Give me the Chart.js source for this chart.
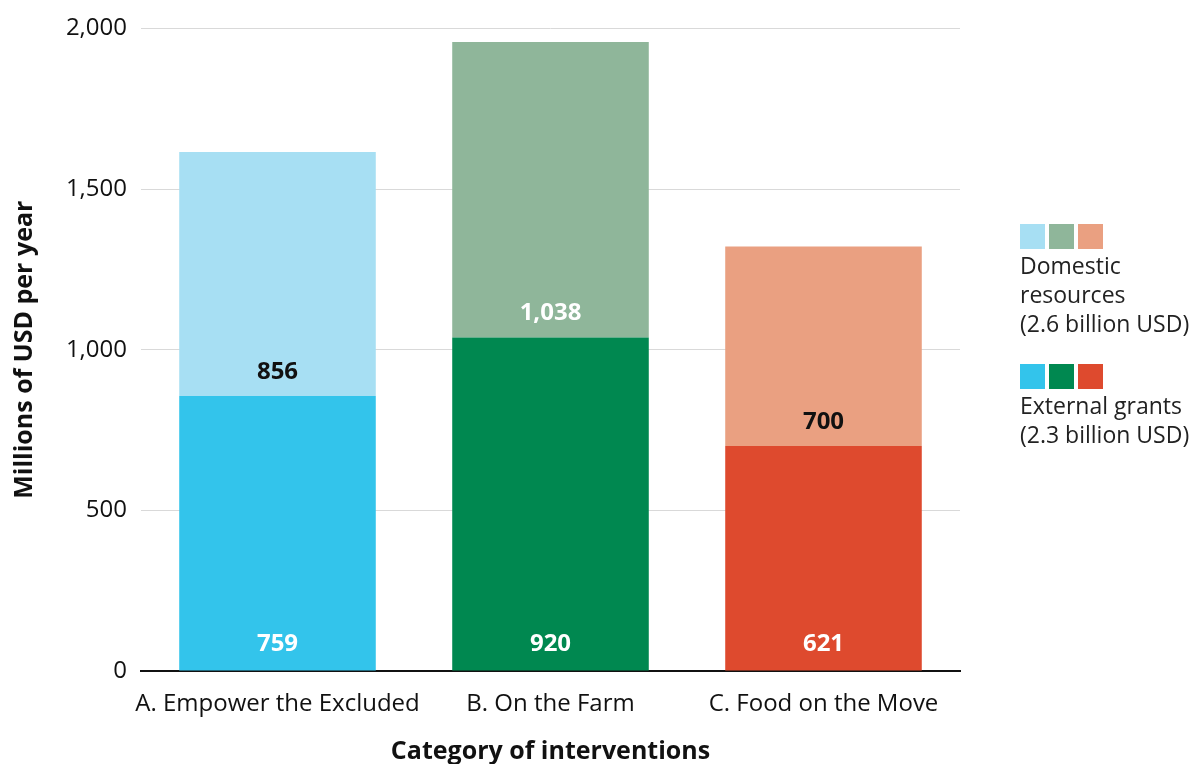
<!DOCTYPE html>
<html>
<head>
<meta charset="utf-8">
<script src="https://cdn.jsdelivr.net/npm/chart.js@4.4.1/dist/chart.umd.min.js"></script>
<style>
  html, body { margin: 0; padding: 0; background: #fff; }
  #wrap { position: relative; width: 1200px; height: 764px; }
  #chart { position: absolute; left: 0; top: 0; }
  .legend { position: absolute; left: 1020px; font-family: "Open Sans", sans-serif; font-size: 23px; color: #222; line-height: 29px; white-space: nowrap; }
  .sw { display: inline-block; width: 25px; height: 25px; margin-right: 4px; vertical-align: top; }
  .sws { height: 25px; margin-bottom: 2px; }
</style>
</head>
<body>
<div id="wrap">
  <canvas id="chart" width="1200" height="764"></canvas>
  <div class="legend" id="leg1" style="top:224px;">
    <div class="sws"><span class="sw" style="background:#a7dff3"></span><span class="sw" style="background:#8fb69a"></span><span class="sw" style="background:#eaa081"></span></div>
    <div>Domestic<br>resources<br>(2.6 billion USD)</div>
  </div>
  <div class="legend" id="leg2" style="top:364px;">
    <div class="sws"><span class="sw" style="background:#33c4eb"></span><span class="sw" style="background:#008850"></span><span class="sw" style="background:#de4a2e"></span></div>
    <div>External grants<br>(2.3 billion USD)</div>
  </div>
</div>
<script>
// ---- data ----
const categories = ["A. Empower the Excluded", "B. On the Farm", "C. Food on the Move"];
// segment heights as drawn in the reference (lower dark segment, upper light segment)
const lowerSegment = [856, 1038, 700];
const upperSegment = [759, 920, 621];
// labels shown at the base of each bar and just above the segment boundary
const baseLabels = ["759", "920", "621"];
const boundaryLabels = ["856", "1,038", "700"];
const yTicks = [0, 500, 1000, 1500, 2000];

const darkColors = ["#33c4eb", "#008850", "#de4a2e"];
const lightColors = ["#a7dff3", "#8fb69a", "#eaa081"];
const boundaryLabelColors = ["#111", "#fff", "#111"];

const FONT = "'Open Sans', sans-serif";

const labelPlugin = {
  id: 'segLabels',
  afterDatasetsDraw(chart) {
    const ctx = chart.ctx;
    const y = chart.scales.y;
    const meta = chart.getDatasetMeta(0);
    ctx.save();
    ctx.font = "bold 24px " + FONT;
    ctx.textAlign = "center";
    ctx.textBaseline = "middle";
    meta.data.forEach((bar, i) => {
      const x = bar.x;
      ctx.fillStyle = "#fff";
      ctx.fillText(baseLabels[i], x, y.getPixelForValue(0) - 27);
      ctx.fillStyle = boundaryLabelColors[i];
      ctx.fillText(boundaryLabels[i], x, y.getPixelForValue(lowerSegment[i]) - 24);
    });
    ctx.restore();
  }
};

new Chart(document.getElementById('chart'), {
  type: 'bar',
  data: {
    labels: categories,
    datasets: [
      { label: 'lower', data: lowerSegment, backgroundColor: darkColors, stack: 's', borderWidth: 0 },
      { label: 'upper', data: upperSegment, backgroundColor: lightColors, stack: 's', borderWidth: 0 }
    ]
  },
  options: {
    responsive: false,
    animation: false,
    layout: { padding: { top: 24, right: 240, left: 0, bottom: 0 } },
    plugins: { legend: { display: false }, tooltip: { enabled: false } },
    scales: {
      x: {
        stacked: true,
        categoryPercentage: 1.0,
        barPercentage: 0.72,
        afterFit(scale) { scale.height = 93; scale.paddingLeft = 0; scale.paddingRight = 0; },
        grid: { display: false },
        border: { display: true, color: '#111', width: 2 },
        ticks: { color: '#111', font: { family: FONT, size: 24 }, padding: 11, maxRotation: 0, minRotation: 0, autoSkip: false },
        title: { display: true, text: 'Category of interventions', color: '#111', font: { family: FONT, size: 25, weight: 'bold' }, padding: { top: 0, bottom: -3 } }
      },
      y: {
        stacked: true,
        min: 0, max: 2000,
        afterBuildTicks(scale) { scale.ticks = yTicks.map(v => ({ value: v })); },
        afterFit(scale) { scale.width = 141; },
        grid: { color: '#d9d9d9', lineWidth: 1, drawTicks: false },
        border: { display: false },
        ticks: {
          color: '#111', font: { family: FONT, size: 24 }, padding: 14,
          callback: v => v.toLocaleString('en-US')
        },
        title: { display: true, text: 'Millions of USD per year', color: '#111', font: { family: FONT, size: 25, weight: 'bold' }, padding: { top: 10, bottom: 0 } }
      }
    }
  },
  plugins: [labelPlugin]
});
</script>
</body>
</html>
